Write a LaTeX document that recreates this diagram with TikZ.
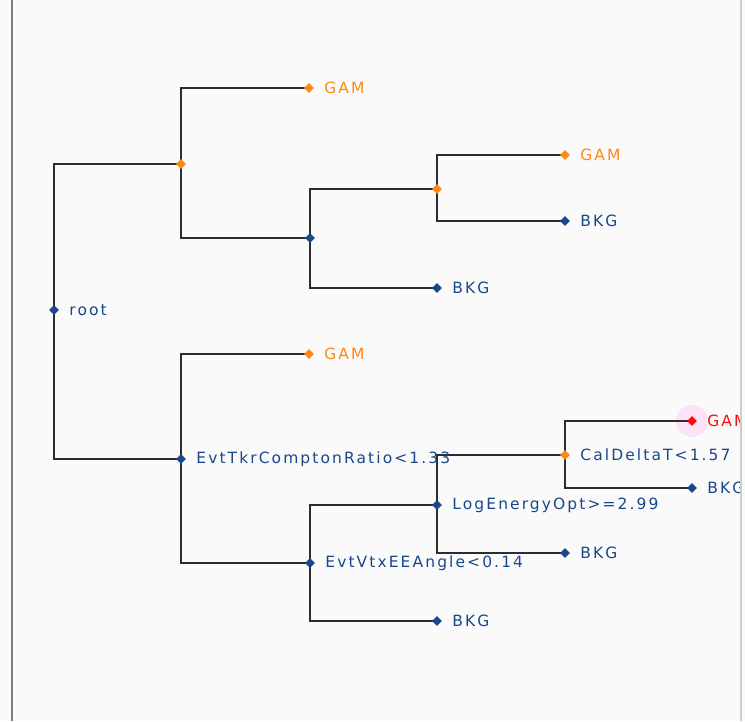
\documentclass[tikz,border=0pt]{standalone}
\usepackage{fontspec}
\usetikzlibrary{shapes.geometric,backgrounds}
\newfontfamily\treefont[LetterSpace=13.5]{DejaVu Sans}
\definecolor{gamcol}{RGB}{255,136,20}
\definecolor{bkgcol}{RGB}{24,72,138}
\definecolor{hitcol}{RGB}{255,10,10}
\definecolor{glowcol}{RGB}{252,226,246}
\definecolor{edgecol}{RGB}{45,45,45}
\tikzset{
  dot/.style={diamond,fill=#1,inner sep=0pt,minimum size=10pt},
  dot/.default=bkgcol,
  lab/.style={text=#1,font=\treefont\fontsize{15.5pt}{17pt}\selectfont,inner sep=0pt,anchor=west,xshift=10pt},
  lab/.default=bkgcol,
  edge/.style={draw=edgecol,line width=1.7pt}
}

\begin{document}
\begin{tikzpicture}[x=1pt,y=-1pt]
    \useasboundingbox (0,0) rectangle (745,721);
    \begin{scope}
        \clip (0,0) rectangle (740,721);
        % splits
        \node[dot,label={[lab]right:root}] (root) at (54,310) {};
        \node[dot=gamcol] (ga) at (181,164) {};
        \node[dot] (gb) at (310,238) {};
        \node[dot=gamcol] (gc) at (437,189) {};
        \node[dot,label={[lab]right:EvtTkrComptonRatio<1.33}] (cmp) at (181,459) {};
        \node[dot,label={[lab]right:EvtVtxEEAngle<0.14}] (vtx) at (310,563) {};
        \node[dot,label={[lab]right:LogEnergyOpt>=2.99}] (loge) at (437,505) {};
        \node[dot=gamcol,label={[lab]right:CalDeltaT<1.57}] (cal) at (565,455) {};
        % leaves
        \node[dot=gamcol,label={[lab=gamcol]right:GAM}] (gam1) at (309,88) {};
        \node[dot=gamcol,label={[lab=gamcol]right:GAM}] (gam2) at (565,155) {};
        \node[dot,label={[lab]right:BKG}] (bkg1) at (565,221) {};
        \node[dot,label={[lab]right:BKG}] (bkg2) at (437,288) {};
        \node[dot=gamcol,label={[lab=gamcol]right:GAM}] (gam3) at (309,354) {};
        \node[dot=hitcol,label={[lab=hitcol]right:GAM}] (gam4) at (692,421) {};
        \node[dot,label={[lab]right:BKG}] (bkg3) at (692,488) {};
        \node[dot,label={[lab]right:BKG}] (bkg4) at (565,553) {};
        \node[dot,label={[lab]right:BKG}] (bkg5) at (437,621) {};
        % branches
        \begin{scope}[on background layer]
            \fill[white!98!black] (0,0) rectangle (745,721);
            \fill[glowcol] (gam4) circle (16);
            \draw[edge] (ga.center) -| (root.center) |- (cmp.center);
            \draw[edge] (gam1.center) -| (ga.center) |- (gb.center);
            \draw[edge] (gc.center) -| (gb.center) |- (bkg2.center);
            \draw[edge] (gam2.center) -| (gc.center) |- (bkg1.center);
            \draw[edge] (gam3.center) -| (cmp.center) |- (vtx.center);
            \draw[edge] (loge.center) -| (vtx.center) |- (bkg5.center);
            \draw[edge] (cal.center) -| (loge.center) |- (bkg4.center);
            \draw[edge] (gam4.center) -| (cal.center) |- (bkg3.center);
        \end{scope}
    \end{scope}
    \draw[gray,line width=2pt] (12,0) -- (12,721);
    \draw[gray!40,line width=1.5pt] (741,0) -- (741,721);
\end{tikzpicture}
\end{document}
